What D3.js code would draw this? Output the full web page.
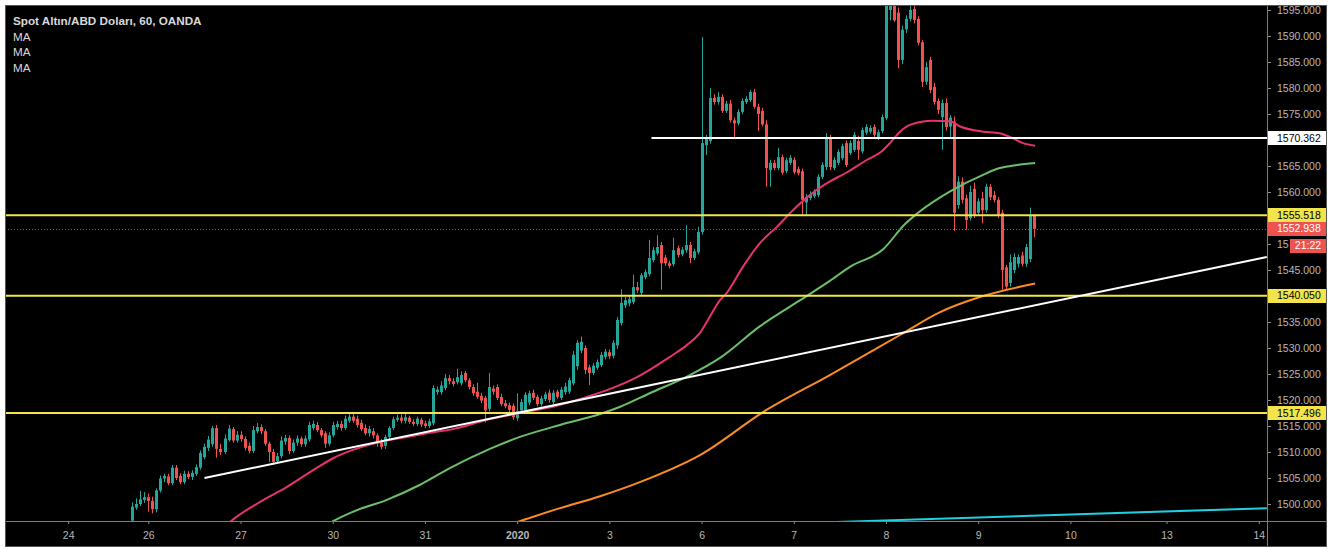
<!DOCTYPE html>
<html><head><meta charset="utf-8">
<script src="https://cdnjs.cloudflare.com/ajax/libs/d3/7.8.5/d3.min.js"></script>
<style>html,body{margin:0;padding:0;background:#fff;}svg{display:block}</style>
</head><body><svg id="c" width="1332" height="549"></svg>
<script>
// ---------- DATA ----------
const title = "Spot Altın/ABD Doları, 60, OANDA";
const legendLabels = ["MA", "MA", "MA"];
// hourly candles [open, high, low, close]
const ohlc = [
[1496.8,1500.3,1496.2,1499.5],[1499.3,1501.1,1498.9,1500.0],[1500.0,1502.5,1499.6,1500.9],[1500.8,1502.3,1500.2,1501.3],
[1501.3,1502.0,1498.5,1500.6],[1500.6,1501.4,1498.2,1499.0],[1499.0,1503.0,1498.4,1502.6],[1502.6,1505.5,1502.2,1504.9],
[1504.9,1505.8,1504.2,1505.4],[1505.3,1505.8,1503.6,1504.0],[1504.0,1507.5,1503.6,1507.0],[1507.0,1507.5,1504.6,1505.0],
[1505.4,1505.9,1503.8,1504.2],[1504.2,1506.4,1503.8,1505.8],[1505.8,1506.3,1504.8,1505.2],[1505.2,1506.5,1504.6,1506.0],
[1505.8,1507.6,1505.4,1507.1],[1507.0,1510.3,1506.6,1509.8],[1509.0,1511.6,1508.6,1511.0],[1510.8,1513.1,1510.2,1512.4],
[1511.5,1515.0,1511.0,1514.6],[1514.6,1515.2,1508.9,1510.6],[1510.6,1511.6,1509.4,1510.0],[1510.0,1513.4,1509.6,1512.6],
[1512.3,1515.2,1512.0,1514.5],[1514.4,1514.8,1511.8,1512.2],[1512.2,1514.0,1511.8,1513.3],[1513.3,1514.0,1512.0,1512.5],
[1512.5,1513.0,1510.3,1510.8],[1511.2,1511.8,1509.7,1510.2],[1510.2,1515.0,1509.8,1514.2],[1514.0,1515.6,1513.6,1514.8],
[1514.8,1515.3,1513.4,1514.0],[1514.0,1514.4,1511.2,1511.6],[1511.6,1512.0,1508.1,1510.0],[1510.0,1510.6,1507.5,1508.1],
[1508.2,1509.8,1507.8,1509.2],[1509.2,1513.0,1508.8,1512.2],[1512.0,1513.3,1511.4,1512.7],[1512.7,1513.2,1509.6,1510.2],
[1510.2,1512.4,1509.8,1511.8],[1511.8,1513.2,1511.2,1512.6],[1512.6,1513.0,1511.0,1511.5],[1511.5,1513.2,1511.0,1512.6],
[1512.4,1515.8,1512.0,1515.2],[1514.6,1516.0,1514.2,1515.4],[1515.2,1515.8,1513.8,1514.2],[1514.2,1514.6,1512.8,1513.2],
[1513.6,1514.0,1510.8,1511.6],[1511.6,1513.8,1511.2,1513.2],[1513.2,1515.8,1512.8,1515.2],[1514.8,1516.0,1514.3,1515.4],
[1515.4,1516.0,1514.1,1514.6],[1514.6,1517.0,1514.2,1516.4],[1516.0,1517.6,1515.6,1516.8],[1516.8,1517.3,1515.6,1516.0],
[1516.4,1517.0,1514.7,1515.2],[1515.6,1516.2,1514.0,1514.4],[1514.6,1515.3,1513.2,1513.6],[1513.6,1515.0,1513.0,1514.4],
[1514.0,1514.6,1512.6,1513.2],[1513.2,1513.6,1511.0,1511.6],[1511.9,1512.5,1510.5,1511.0],[1511.2,1513.3,1510.6,1512.9],
[1512.9,1515.0,1512.5,1514.6],[1514.6,1516.8,1514.2,1516.3],[1516.2,1517.2,1515.8,1516.6],[1516.6,1517.2,1515.5,1516.0],
[1516.0,1517.3,1515.5,1516.7],[1516.6,1517.0,1515.4,1515.8],[1515.8,1516.3,1515.0,1515.4],[1515.4,1516.8,1515.0,1516.4],
[1516.2,1516.6,1514.8,1515.3],[1515.5,1516.0,1514.6,1515.0],[1515.0,1516.4,1514.6,1515.9],[1515.5,1522.8,1515.1,1522.3],
[1521.5,1522.6,1521.0,1522.0],[1521.5,1523.6,1521.0,1522.8],[1522.3,1525.0,1521.9,1524.2],[1524.2,1524.8,1523.0,1523.6],
[1523.6,1524.2,1522.6,1523.1],[1523.4,1526.0,1523.0,1524.4],[1523.2,1525.5,1522.8,1524.8],[1525.2,1525.6,1523.4,1523.8],
[1523.8,1524.2,1522.0,1522.5],[1522.5,1523.0,1520.8,1521.3],[1521.6,1523.3,1520.2,1520.6],[1520.8,1521.4,1519.4,1519.9],
[1520.4,1520.8,1515.7,1518.0],[1518.3,1525.2,1517.8,1522.5],[1522.2,1522.8,1521.0,1521.6],[1522.5,1523.0,1520.0,1520.4],
[1520.6,1521.2,1518.8,1519.2],[1519.4,1520.0,1518.4,1518.8],[1519.0,1519.5,1517.6,1518.1],[1518.9,1519.3,1516.2,1516.7],
[1516.5,1521.3,1516.0,1517.9],[1518.0,1520.2,1517.6,1519.6],[1518.0,1521.5,1517.6,1521.0],[1519.5,1521.8,1519.0,1521.3],
[1521.4,1522.0,1520.0,1520.4],[1520.6,1521.0,1518.8,1519.2],[1519.2,1520.8,1518.8,1520.3],[1520.2,1521.6,1519.8,1521.1],
[1521.4,1522.0,1519.5,1520.0],[1519.6,1521.9,1519.2,1521.4],[1521.6,1522.0,1520.2,1520.6],[1520.4,1522.5,1520.0,1522.0],
[1521.5,1523.3,1521.0,1522.6],[1521.6,1524.3,1521.2,1523.8],[1523.2,1529.4,1522.8,1528.7],[1526.5,1531.5,1525.8,1531.0],
[1529.5,1532.2,1529.0,1531.2],[1530.0,1530.5,1525.0,1525.8],[1526.3,1526.8,1522.9,1525.2],[1525.2,1527.1,1524.8,1526.6],
[1526.2,1527.8,1525.8,1527.3],[1526.7,1529.2,1526.3,1528.7],[1528.3,1529.8,1527.8,1529.3],[1529.2,1529.7,1527.9,1528.4],
[1528.5,1531.5,1528.0,1531.0],[1530.5,1536.0,1529.8,1535.4],[1534.8,1541.3,1534.3,1538.7],[1538.2,1539.8,1537.7,1539.2],
[1538.6,1540.0,1538.0,1539.4],[1538.8,1544.1,1538.4,1541.7],[1541.7,1542.7,1540.6,1541.1],[1540.6,1544.4,1540.2,1544.0],
[1543.6,1545.1,1543.2,1544.6],[1544.2,1550.8,1543.8,1547.3],[1546.9,1549.4,1546.5,1548.8],[1548.2,1551.7,1547.8,1549.4],
[1549.8,1550.4,1541.2,1546.3],[1547.4,1547.9,1545.8,1546.3],[1546.3,1546.8,1545.3,1545.8],[1546.1,1551.2,1545.7,1548.8],
[1549.2,1549.7,1547.4,1547.9],[1548.0,1549.4,1547.6,1548.9],[1548.8,1553.6,1548.3,1549.8],[1549.8,1550.4,1546.3,1547.3],
[1547.3,1549.1,1546.9,1548.6],[1548.4,1553.3,1548.0,1552.3],[1552.3,1589.8,1551.8,1569.4],[1569.0,1571.0,1567.1,1570.2],
[1569.8,1580.0,1569.3,1578.1],[1578.1,1578.8,1576.8,1577.3],[1577.3,1579.2,1576.8,1578.3],[1578.3,1578.8,1575.2,1575.6],
[1575.6,1577.5,1575.2,1577.0],[1577.0,1577.7,1573.4,1573.8],[1573.8,1574.3,1570.6,1573.2],[1573.2,1575.9,1572.8,1575.4],
[1575.4,1578.0,1575.0,1577.5],[1577.3,1578.4,1576.9,1577.9],[1577.7,1579.6,1577.3,1579.2],[1579.2,1579.8,1576.0,1576.4],
[1576.4,1577.0,1571.7,1575.0],[1575.6,1576.2,1572.6,1573.0],[1573.0,1573.8,1561.0,1564.6],[1564.2,1566.2,1561.0,1565.6],
[1565.6,1566.1,1564.2,1564.6],[1564.6,1568.5,1564.2,1566.7],[1566.7,1567.2,1563.3,1563.7],[1564.0,1566.6,1563.6,1566.1],
[1565.6,1567.1,1565.2,1566.6],[1566.2,1566.7,1563.4,1563.8],[1564.4,1564.9,1563.2,1563.6],[1564.0,1564.5,1555.6,1558.5],
[1558.0,1559.6,1555.6,1559.0],[1558.8,1560.1,1558.4,1559.6],[1559.2,1560.5,1558.8,1560.0],[1559.4,1563.4,1559.0,1562.9],
[1562.9,1565.7,1562.5,1565.2],[1564.8,1571.3,1564.2,1570.4],[1570.4,1571.0,1564.2,1564.8],[1564.6,1566.7,1564.2,1566.2],
[1565.6,1568.2,1565.2,1567.7],[1566.5,1569.3,1566.1,1568.8],[1569.4,1569.9,1564.8,1565.2],[1567.5,1569.9,1567.1,1569.4],
[1568.1,1571.5,1567.7,1571.0],[1569.8,1570.8,1566.2,1568.1],[1567.8,1572.4,1567.4,1571.9],[1571.4,1573.0,1571.0,1572.5],
[1571.6,1572.8,1571.2,1572.3],[1572.5,1573.0,1570.6,1571.0],[1570.4,1572.0,1570.0,1571.5],[1571.7,1574.9,1571.3,1574.4],
[1574.2,1598.5,1573.8,1596.5],[1595.0,1611.0,1593.0,1600.0],[1598.0,1599.0,1592.7,1593.0],[1594.5,1595.5,1583.8,1585.4],
[1585.4,1592.0,1584.6,1591.2],[1591.3,1594.0,1590.6,1593.3],[1593.3,1596.0,1592.8,1595.0],[1595.2,1596.0,1592.4,1593.1],
[1593.3,1593.8,1588.2,1588.7],[1588.8,1589.2,1580.2,1581.2],[1581.2,1585.0,1580.6,1584.0],[1585.4,1586.0,1579.0,1579.6],
[1580.2,1581.0,1576.8,1577.3],[1577.5,1578.0,1575.0,1575.8],[1574.4,1577.8,1568.1,1577.1],[1577.1,1578.0,1571.8,1572.5],
[1572.6,1574.8,1570.4,1574.3],[1573.5,1574.5,1552.5,1556.0],[1557.5,1563.0,1556.8,1562.0],[1562.0,1562.8,1557.8,1558.5],
[1558.8,1559.5,1552.7,1554.6],[1555.0,1561.2,1554.5,1560.0],[1560.6,1561.8,1555.0,1555.6],[1556.0,1558.8,1555.5,1558.2],
[1558.8,1560.0,1554.0,1556.5],[1556.5,1561.6,1556.0,1561.0],[1561.0,1561.5,1558.4,1559.0],[1559.4,1560.2,1558.0,1558.5],
[1558.5,1559.0,1555.0,1555.6],[1556.0,1556.6,1541.2,1545.0],[1545.5,1546.0,1541.2,1541.8],[1542.5,1548.0,1541.8,1546.5],
[1545.0,1548.2,1544.4,1547.5],[1546.2,1548.0,1545.5,1547.5],[1547.8,1548.5,1545.7,1546.2],[1546.2,1550.0,1545.6,1549.4],
[1547.1,1557.0,1546.5,1555.4],[1555.4,1555.6,1551.3,1552.938]
];
// moving averages: [candle index, price]
const maPink = [[23,1495.6],[24.6,1496.7],[31.9,1500.4],[38.6,1503.3],[45.1,1506.5],[50.1,1508.8],[55,1510.4],[61.8,1511.9],
 [68.5,1512.9],[75,1513.8],[80,1514.4],[88.5,1516.2],[96.7,1517.5],[104.9,1518.7],[113.4,1520.6],[118.4,1521.9],[125.9,1524.4],
 [134.1,1528.3],[138.4,1530.6],[141.6,1532.9],[143.6,1535.4],[146.6,1539.2],[148.3,1540.6],[152.3,1545.6],[156.6,1550.2],
 [160.8,1553.3],[164.8,1556.5],[169,1559.4],[173.3,1561.7],[178.3,1563.8],[183.3,1566.2],[186.9,1567.8],[189,1569.4],
 [191.5,1571.6],[194,1572.9],[199.7,1573.7],[203.9,1573.6],[206.5,1572.6],[212.2,1571.6],[216.4,1571.3],[218.9,1570.6],
 [222.2,1569.4],[225.2,1568.9]];
const maGreen = [[49,1496.2],[50.1,1496.7],[55,1498.5],[63.5,1500.8],[71.8,1503.7],[79.2,1506.9],[89.2,1510.6],[96.7,1512.9],
 [106.7,1515.2],[116.7,1517.3],[121.7,1518.7],[129.1,1521.3],[139.1,1524.8],[146.6,1528.1],[156.6,1534.2],[166.6,1539.2],
 [174,1542.9],[179,1545.6],[187.3,1549.0],[192.7,1553.8],[195.7,1555.8],[204,1560.1],[212.2,1563.3],[216.4,1564.6],
 [220.7,1565.2],[225.2,1565.6]];
const maOrange = [[95.5,1496.4],[96.7,1496.7],[106.7,1499.2],[116.7,1501.5],[126.6,1504.2],[141.6,1509.4],[157.8,1517.9],
 [174,1524.8],[191.5,1532.5],[201.5,1536.9],[211.4,1539.8],[225.2,1542.4]];
// drawings
const trendWhite = [[18,1505.0],[283,1547.5]];
const trendCyan = [[150,1495.9],[283,1499.2]];
const resistanceStart = 129.5;
const resistanceValue = 1570.362;
const yellowLevels = [1555.518, 1540.050, 1517.496];
const lastPrice = 1552.938;
const countdown = "21:22";
// axes
const priceTicks = [1500,1505,1510,1515,1520,1525,1530,1535,1545,1550,1560,1565,1575,1580,1585,1590,1595];
const dayTickIndex = [-16,4,27,50,73,96,119,142,165,188,211,234,258,281];
const dayTickLabels = ["24","26","27","30","31","2020","3","6","7","8","9","10","13","14"];

// ---------- LAYOUT ----------
const L = 5, T = 5, R = 1327, B = 547, PR = 1267, PB = 521;
const svg = d3.select("#c");
const x = d3.scaleLinear().domain([0, 225]).range([132.3, 1034.3]);
const y = d3.scaleLinear().domain([1500, 1595]).range([504, 10]);
const FONT = "'Liberation Sans', Arial, sans-serif";
const up = "#26a69a", down = "#ef5350";
const yellow = "#f2e44a";

svg.append("rect").attr("width",1332).attr("height",549).attr("fill","#fff");
svg.append("rect").attr("x",L).attr("y",T).attr("width",R-L).attr("height",B-T).attr("fill","#000");
const defs = svg.append("defs");
defs.append("clipPath").attr("id","plot").append("rect")
  .attr("x",L).attr("y",T).attr("width",PR-L).attr("height",PB-T);
// local clip (tick coordinates) so that only the start of the 1550 label shows left of the countdown box
defs.append("clipPath").attr("id","cdclip").append("rect")
  .attr("x",0).attr("y",-10).attr("width",22).attr("height",20);
const plot = svg.append("g").attr("clip-path","url(#plot)");

// candles
const cg = plot.append("g");
const cx = i => Math.round(x(i));
cg.selectAll("line").data(ohlc).join("line")
  .attr("x1",(d,i)=>cx(i)+0.5).attr("x2",(d,i)=>cx(i)+0.5)
  .attr("y1",d=>y(d[1])).attr("y2",d=>y(d[2]))
  .attr("stroke",d=>d[3]>=d[0]?up:down).attr("stroke-width",1);
cg.selectAll("rect").data(ohlc).join("rect")
  .attr("x",(d,i)=>cx(i)-1).attr("width",3)
  .attr("y",d=>y(Math.max(d[0],d[3])))
  .attr("height",d=>Math.max(1,Math.abs(y(d[0])-y(d[3]))))
  .attr("fill",d=>d[3]>=d[0]?up:down);

// moving averages
const maLine = d3.line().x(d=>x(d[0])).y(d=>y(d[1])).curve(d3.curveMonotoneX);
[[maGreen,"#6cbf68"],[maOrange,"#fb8c24"],[maPink,"#e6336b"]].forEach(([data,col])=>{
  plot.append("path").datum(data).attr("d",maLine).attr("fill","none")
    .attr("stroke",col).attr("stroke-width",2).attr("stroke-linejoin","round");
});

// horizontal levels
plot.selectAll("line.lvl").data(yellowLevels).join("line").attr("class","lvl")
  .attr("x1",L).attr("x2",PR).attr("y1",d=>y(d)).attr("y2",d=>y(d))
  .attr("stroke",yellow).attr("stroke-width",2);
plot.append("line").attr("x1",x(resistanceStart)).attr("x2",PR)
  .attr("y1",y(resistanceValue)).attr("y2",y(resistanceValue))
  .attr("stroke","#fff").attr("stroke-width",2);
plot.append("line").attr("x1",L).attr("x2",PR).attr("y1",Math.round(y(lastPrice))+0.5).attr("y2",Math.round(y(lastPrice))+0.5)
  .attr("stroke","#d9443f").attr("stroke-width",1).attr("stroke-dasharray","1,2");

// trend lines
const tl = d3.line().x(d=>x(d[0])).y(d=>y(d[1]));
plot.append("path").datum(trendWhite).attr("d",tl).attr("stroke","#fff").attr("stroke-width",2).attr("fill","none");
plot.append("path").datum(trendCyan).attr("d",tl).attr("stroke","#22cfe0").attr("stroke-width",2).attr("fill","none");

// legend
svg.append("text").attr("x",13).attr("y",24.5).text(title)
  .attr("font-family",FONT).attr("font-size","11.7px").attr("font-weight","bold").attr("fill","#d9d9d9");
svg.selectAll("text.leg").data(legendLabels).join("text").attr("class","leg")
  .attr("x",13).attr("y",(d,i)=>40.5+i*15.7).text(d=>d)
  .attr("font-family",FONT).attr("font-size","11.7px").attr("fill","#d9d9d9");

// axes
const axCol = "#b8b8b8";
const yAx = svg.append("g").attr("transform",`translate(${PR},0)`)
  .call(d3.axisRight(y).tickValues(priceTicks).tickFormat(d3.format(".3f")).tickSize(4).tickPadding(6));
yAx.select(".domain").remove();
yAx.selectAll("line").attr("stroke","#8a8a8a");
yAx.selectAll("text").attr("fill",axCol).attr("font-family",FONT).attr("font-size","10.5px");
yAx.selectAll(".tick").filter(d=>d===1550).select("text").attr("clip-path","url(#cdclip)");

const xAx = svg.append("g").attr("transform",`translate(0,${PB})`)
  .call(d3.axisBottom(x).tickValues(dayTickIndex).tickFormat((d,i)=>dayTickLabels[i]).tickSize(3).tickPadding(8));
xAx.select(".domain").remove();
xAx.selectAll("line").attr("stroke","#8a8a8a");
xAx.selectAll("text").attr("fill",axCol).attr("font-family",FONT).attr("font-size","10.5px")
  .attr("font-weight",(d,i)=>dayTickLabels[i]==="2020"?"bold":"normal");

// separators & border
svg.append("line").attr("x1",PR+0.5).attr("x2",PR+0.5).attr("y1",T).attr("y2",B).attr("stroke","#7a7d86");
svg.append("line").attr("x1",L).attr("x2",R).attr("y1",PB+0.5).attr("y2",PB+0.5).attr("stroke","#7a7d86");
svg.append("rect").attr("x",L+0.5).attr("y",T+0.5).attr("width",R-L-1).attr("height",B-T-1)
  .attr("fill","none").attr("stroke","#555");

// price labels on the scale
const fmt = d3.format(".3f");
const boxes = [
  {v:resistanceValue, bg:"#ffffff", fg:"#000", txt:fmt(resistanceValue), dy:0, x0:PR+1, w:58},
  ...yellowLevels.map(v=>({v, bg:yellow, fg:"#000", txt:fmt(v), dy:0, x0:PR+1, w:58})),
  {v:lastPrice, bg:"#ef5350", fg:"#fff", txt:fmt(lastPrice), dy:0, x0:PR+1, w:58},
  {v:lastPrice, bg:"#ef5350", fg:"#fff", txt:countdown, dy:17, x0:PR+23, w:36, center:true}
];
const bg = svg.append("g");
boxes.forEach(b=>{
  const cy = y(b.v)+b.dy;
  bg.append("rect").attr("x",b.x0).attr("y",Math.round(cy-7)).attr("width",b.w).attr("height",14).attr("fill",b.bg);
  bg.append("text").attr("x",b.center? b.x0+b.w/2 : PR+10).attr("y",cy).attr("dy","0.34em")
    .attr("text-anchor",b.center?"middle":"start")
    .attr("font-family",FONT).attr("font-size","10.5px").attr("fill",b.fg).text(b.txt);
});
</script></body></html>
